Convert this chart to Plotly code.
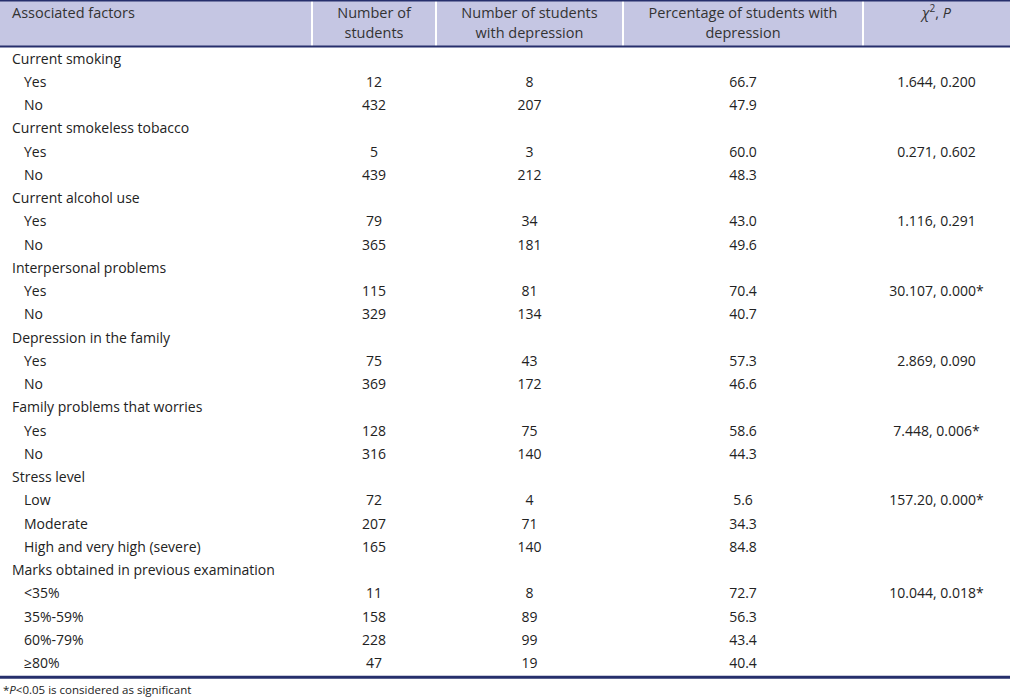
import plotly.graph_objects as go

# ---------------- data ----------------
header_line1 = ["Associated factors", "Number of", "Number of students", "Percentage of students with", "<i>χ</i><sup>2</sup>, <i>P</i>"]
header_line2 = ["", "students", "with depression", "depression", ""]

groups = ["Current smoking", "Current smokeless tobacco", "Current alcohol use",
          "Interpersonal problems", "Depression in the family",
          "Family problems that worries", "Stress level",
          "Marks obtained in previous examination"]
levels = [["Yes", "No"], ["Yes", "No"], ["Yes", "No"], ["Yes", "No"],
          ["Yes", "No"], ["Yes", "No"],
          ["Low", "Moderate", "High and very high (severe)"],
          ["&lt;35%", "35%-59%", "60%-79%", "≥80%"]]
n_students = [[12, 432], [5, 439], [79, 365], [115, 329], [75, 369], [128, 316],
              [72, 207, 165], [11, 158, 228, 47]]
n_depressed = [[8, 207], [3, 212], [34, 181], [81, 134], [43, 172], [75, 140],
               [4, 71, 140], [8, 89, 99, 19]]
pct_depressed = [[66.7, 47.9], [60.0, 48.3], [43.0, 49.6], [70.4, 40.7],
                 [57.3, 46.6], [58.6, 44.3], [5.6, 34.3, 84.8],
                 [72.7, 56.3, 43.4, 40.4]]
chi2_p = ["1.644, 0.200", "0.271, 0.602", "1.116, 0.291", "30.107, 0.000*",
          "2.869, 0.090", "7.448, 0.006*", "157.20, 0.000*", "10.044, 0.018*"]
footnote = "*<i>P</i>&lt;0.05 is considered as significant"

# ---------------- layout constants ----------------
W, H = 1010, 697
HEADER_H = 47
ROW_START = 48.5
ROW_H = 23.25
col_edges = [0, 312, 436, 623, 863, 1010]
centers = [(col_edges[i] + col_edges[i + 1]) / 2 for i in range(5)]
GROUP_X, ITEM_X = 12, 24
HEADER_FILL = "#c5c6e3"
NAVY = "#262f6c"
TEXT = "#222222"
FONT = "Open Sans"

# build rows: label column plus (row index, text) entries for value columns
lab, lab_x = [], []
cols = [[], [], [], []]  # each: list of (row_index, text)
r = 0
for g, lv, ns, nd, pc, ch in zip(groups, levels, n_students, n_depressed, pct_depressed, chi2_p):
    lab.append(g); lab_x.append(GROUP_X); r += 1
    for j, (l, a, b, p) in enumerate(zip(lv, ns, nd, pc)):
        lab.append(l); lab_x.append(ITEM_X)
        cols[0].append((r, str(a)))
        cols[1].append((r, str(b)))
        cols[2].append((r, f"{p:.1f}"))
        if j == 0:
            cols[3].append((r, ch))
        r += 1
n_rows = len(lab)


def row_center(i):
    return ROW_START + (i + 0.5) * ROW_H


table_bottom = ROW_START + n_rows * ROW_H

fig = go.Figure()
fs = 14
hfs = 14.5
fig.add_trace(go.Scatter(x=lab_x, y=[row_center(i) for i in range(n_rows)], text=lab,
                         mode="text", textposition="middle right",
                         textfont=dict(family=FONT, size=fs, color=TEXT),
                         hoverinfo="skip", showlegend=False))
for k, col in enumerate(cols):
    fig.add_trace(go.Scatter(x=[centers[k + 1]] * len(col),
                             y=[row_center(i) for i, _ in col],
                             text=[t for _, t in col],
                             mode="text", textposition="middle center",
                             textfont=dict(family=FONT, size=fs, color=TEXT),
                             hoverinfo="skip", showlegend=False))

# header text
hx = [GROUP_X] + centers[1:]
fig.add_trace(go.Scatter(x=hx[:1], y=[14.5], text=header_line1[:1], mode="text",
                         textposition="middle right",
                         textfont=dict(family=FONT, size=hfs, color="#333333"),
                         hoverinfo="skip", showlegend=False))
fig.add_trace(go.Scatter(x=hx[1:], y=[14.5] * 4, text=header_line1[1:], mode="text",
                         textposition="middle center",
                         textfont=dict(family=FONT, size=hfs, color="#333333"),
                         hoverinfo="skip", showlegend=False))
fig.add_trace(go.Scatter(x=hx[1:4], y=[34.5] * 3, text=header_line2[1:4], mode="text",
                         textposition="middle center",
                         textfont=dict(family=FONT, size=hfs, color="#333333"),
                         hoverinfo="skip", showlegend=False))

shapes = [
    dict(type="rect", x0=0, x1=W, y0=0, y1=HEADER_H, fillcolor=HEADER_FILL,
         line=dict(width=0), layer="below"),
]
for xe in col_edges[1:-1]:
    shapes.append(dict(type="line", x0=xe, x1=xe, y0=0, y1=HEADER_H,
                       line=dict(color="white", width=2), layer="below"))
shapes += [
    dict(type="line", x0=0, x1=W, y0=0.75, y1=0.75, line=dict(color=NAVY, width=1.5)),
    dict(type="line", x0=0, x1=W, y0=HEADER_H - 0.5, y1=HEADER_H - 0.5, line=dict(color=NAVY, width=2)),
    dict(type="line", x0=0, x1=W, y0=table_bottom + 1, y1=table_bottom + 1, line=dict(color=NAVY, width=3)),
]

fig.update_layout(
    width=W, height=H, autosize=False,
    margin=dict(l=0, r=0, t=0, b=0),
    paper_bgcolor="white", plot_bgcolor="white",
    xaxis=dict(range=[0, W], visible=False, fixedrange=True),
    yaxis=dict(range=[H, 0], visible=False, fixedrange=True),
    shapes=shapes,
    annotations=[dict(x=1, y=689, xref="x", yref="y", text=footnote, showarrow=False,
                      xanchor="left", yanchor="middle",
                      font=dict(family=FONT, size=11.5, color=TEXT))],
)

fig.write_html("out.html", config={"displayModeBar": False},
               post_script="document.body.style.margin='0px';document.body.style.overflow='hidden';")
